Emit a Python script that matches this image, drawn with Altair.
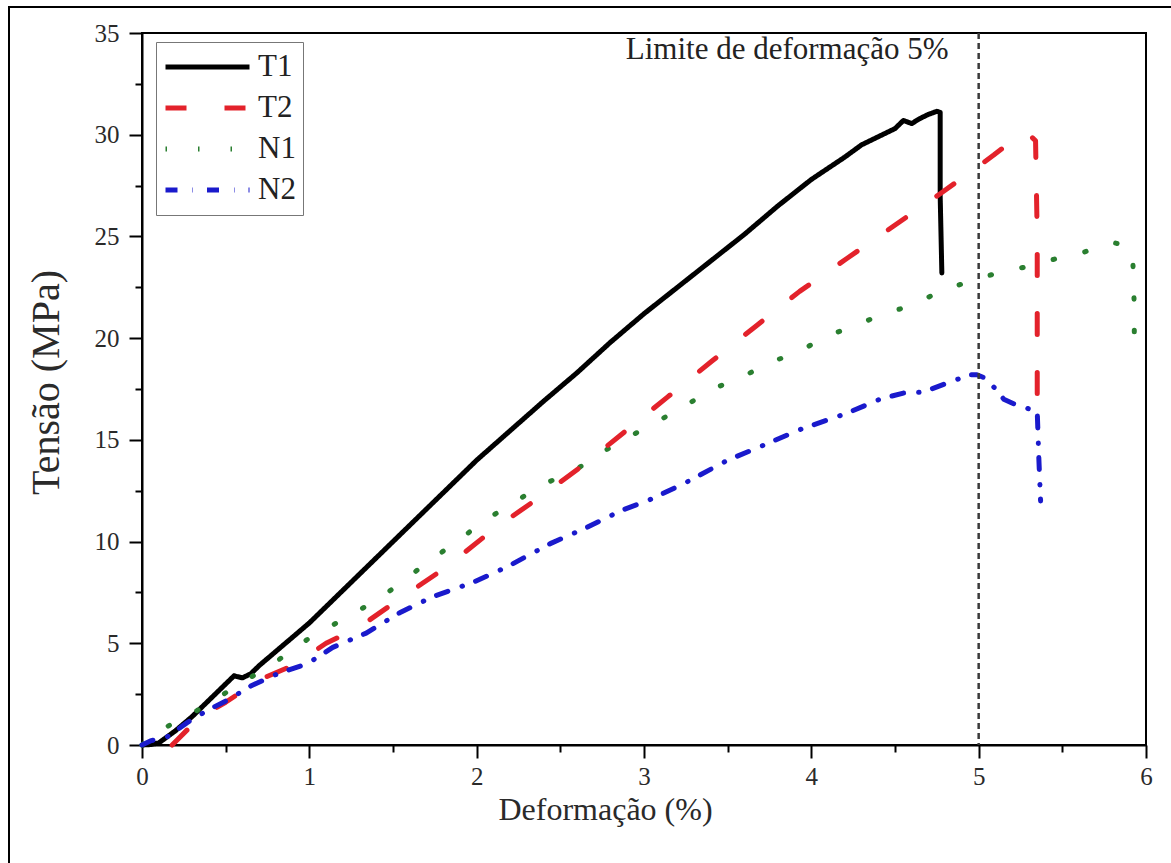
import altair as alt
import pandas as pd

SERIF = "Liberation Serif"

series = ["T1", "T2", "N1", "N2"]
colors = ["#000000", "#e3222b", "#2a7f30", "#1a1acc"]
dashes = [[1, 0], [21, 38], [1.5, 31], [12, 15, 0.5, 14]]

t1_x = [0.0, 0.05, 0.1, 0.2, 0.3, 0.4, 0.5, 0.55, 0.6, 0.65, 0.7, 0.8, 0.9, 1.0, 1.1, 1.2, 1.3, 1.4,
        1.5, 1.6, 1.7, 1.8, 1.9, 2.0, 2.2, 2.4, 2.6, 2.8, 3.0, 3.2, 3.4, 3.6, 3.8, 4.0, 4.2, 4.3, 4.4,
        4.5, 4.55, 4.6, 4.65, 4.7, 4.75, 4.77, 4.77, 4.78]
t1_y = [0.0, 0.02, 0.1, 0.7, 1.4, 2.2, 3.0, 3.4, 3.3, 3.5, 3.9, 4.6, 5.3, 6.0, 6.8, 7.6, 8.4, 9.2,
        10.0, 10.8, 11.6, 12.4, 13.2, 14.0, 15.45, 16.9, 18.3, 19.8, 21.2, 22.5, 23.8, 25.1, 26.5, 27.8,
        28.9, 29.5, 29.9, 30.3, 30.7, 30.55, 30.8, 31.0, 31.15, 31.1, 27.0, 23.2]

t2_x = [0.18, 0.21, 0.35, 0.5, 0.7, 0.9, 1.1, 1.3, 1.56, 1.82, 2.1, 2.38, 2.66, 2.9, 3.14, 3.41, 3.67,
        3.93, 4.21, 4.49, 4.77, 4.99, 5.09, 5.2, 5.29, 5.34, 5.35, 5.35]
t2_y = [0.0, 0.25, 1.4, 2.1, 3.2, 3.9, 5.0, 5.8, 7.3, 8.75, 10.6, 12.2, 13.9, 15.5, 17.1, 18.9, 20.6,
        22.3, 23.9, 25.5, 27.1, 28.4, 29.0, 29.7, 30.1, 29.7, 25.0, 16.5]

n1_x = [0.0, 0.05, 0.21, 0.33, 0.45, 0.6, 0.75, 0.87, 0.99, 1.12, 1.27, 1.42, 1.55, 1.71, 1.88, 2.06,
        2.22, 2.39, 2.57, 2.73, 2.9, 3.08, 3.25, 3.41, 3.59, 3.75, 3.92, 4.09, 4.26, 4.43, 4.6, 4.77,
        4.95, 5.11, 5.28, 5.46, 5.62, 5.8, 5.86, 5.92, 5.93, 5.93]
n1_y = [0.0, 0.4, 1.2, 1.7, 2.3, 3.1, 3.8, 4.5, 5.2, 5.8, 6.5, 7.2, 8.0, 9.0, 10.0, 11.1,
        11.9, 12.8, 13.4, 14.3, 15.1, 15.9, 16.7, 17.5, 18.1, 18.8, 19.3, 20.1, 20.6, 21.2, 21.6, 22.3,
        22.8, 23.2, 23.5, 23.9, 24.2, 24.7, 24.6, 24.2, 21.5, 18.8]

n2_x = [0.0, 0.05, 0.15, 0.27, 0.39, 0.51, 0.65, 0.81, 0.99, 1.14, 1.34, 1.54, 1.74, 1.98, 2.18, 2.44,
        2.66, 2.87, 3.02, 3.25, 3.5, 3.69, 3.93, 4.21, 4.41, 4.55, 4.67, 4.83, 4.95, 4.99, 5.05, 5.15,
        5.23, 5.35, 5.36, 5.37]
n2_y = [0.0, 0.2, 0.4, 1.1, 1.7, 2.2, 2.9, 3.5, 4.0, 4.8, 5.5, 6.5, 7.3, 8.0, 8.75, 9.9,
        10.7, 11.55, 12.0, 12.9, 14.0, 14.65, 15.5, 16.3, 17.0, 17.3, 17.35, 17.85, 18.2, 18.2, 18.0, 17.0,
        16.7, 16.4, 14.0, 12.0]

x_major = [0, 1, 2, 3, 4, 5, 6]
x_minor = [0.5, 1.5, 2.5, 3.5, 4.5, 5.5]
y_major = [0, 5, 10, 15, 20, 25, 30, 35]
y_minor = [2.5, 7.5, 12.5, 17.5, 22.5, 27.5, 32.5]

limit_x = [5]
note_x = [4.82]
note_y = [33.7]
note_text = ["Limite de deformação 5%"]

rows = []
for name, xs, ys in [("T1", t1_x, t1_y), ("N1", n1_x, n1_y), ("T2", t2_x, t2_y), ("N2", n2_x, n2_y)]:
    for i, (xv, yv) in enumerate(zip(xs, ys)):
        rows.append({"serie": name, "x": xv, "y": yv, "i": i})
df = pd.DataFrame(rows)

leg = alt.Legend(title=None, orient="none", legendX=14, legendY=9, symbolType="stroke",
                 symbolSize=7056, symbolStrokeWidth=5, clipHeight=36, rowPadding=5, padding=7,
                 labelFont=SERIF, labelFontSize=31, labelColor="#222222", labelOffset=6,
                 strokeColor="#777777", fillColor="white")

xscale = alt.Scale(domain=[0, 6], nice=False, zero=False)
yscale = alt.Scale(domain=[0, 35], nice=False)

lines = alt.Chart(df).mark_line(strokeWidth=5, strokeCap="round", strokeJoin="round").encode(
    x=alt.X("x:Q", scale=xscale,
            axis=alt.Axis(values=x_major, format="d", tickSize=13, labelPadding=6, orient="bottom",
                          labelFlush=False, labelOverlap=False,
                          title="Deformação (%)", titleFontSize=32, titleX=463, titleY=74,
                          titleAlign="center", titleBaseline="alphabetic")),
    y=alt.Y("y:Q", scale=yscale,
            axis=alt.Axis(values=y_major, format="d", tickSize=13, labelPadding=10, orient="left",
                          labelOverlap=False,
                          title="Tensão (MPa)", titleFontSize=40, titleX=-84, titleY=349,
                          titleAlign="center", titleBaseline="alphabetic")),
    color=alt.Color("serie:N", scale=alt.Scale(domain=series, range=colors), legend=leg),
    strokeDash=alt.StrokeDash("serie:N", scale=alt.Scale(domain=series, range=dashes), legend=leg),
    order=alt.Order("i:Q"),
)

vline = alt.Chart(pd.DataFrame({"x": limit_x})).mark_rule(
    color="#3a3a3a", strokeWidth=2.5, strokeDash=[6, 4]
).encode(
    x=alt.X("x:Q", scale=xscale,
            axis=alt.Axis(values=x_minor, tickSize=7, labels=False, domain=False, title=None,
                          orient="bottom"))
)

note = alt.Chart(pd.DataFrame({"x": note_x, "y": note_y, "t": note_text})).mark_text(
    align="right", baseline="alphabetic", font=SERIF, fontSize=31, color="#222222"
).encode(
    x=alt.X("x:Q", scale=xscale, axis=None),
    y=alt.Y("y:Q", scale=yscale,
            axis=alt.Axis(values=y_minor, tickSize=7, labels=False, domain=False, title=None,
                          orient="left")),
    text="t:N",
)

one = pd.DataFrame({"k": [0]})
frame_top = alt.Chart(one).mark_rule(color="black", strokeWidth=2, clip=False).encode(
    x=alt.value(-134), x2=alt.value(1029), y=alt.value(-26))
frame_left = alt.Chart(one).mark_rule(color="black", strokeWidth=2, clip=False).encode(
    x=alt.value(-133), y=alt.value(-27), y2=alt.value(830))

chart = alt.layer(lines, vline, note, frame_top, frame_left).resolve_axis(
    x="independent", y="independent"
).properties(
    width=1004, height=712,
    autosize=alt.AutoSizeParams(type="none"),
    padding={"left": 142, "top": 33, "right": 25, "bottom": 118},
    background="white",
).configure_axis(
    grid=False, domainColor="black", domainWidth=2, tickColor="black", tickWidth=2,
    labelFont=SERIF, labelFontSize=25, labelColor="#2a2a2a",
    titleFont=SERIF, titleFontWeight="normal", titleColor="#2a2a2a",
).configure_view(stroke="black", strokeWidth=2)

chart.save("out.html", embed_options={"renderer": "svg", "actions": False})
